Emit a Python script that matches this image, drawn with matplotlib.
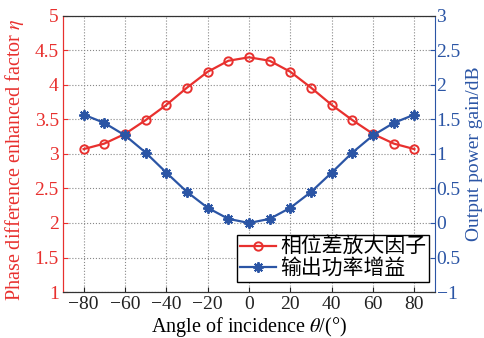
import matplotlib.pyplot as plt

plt.rcParams['font.family'] = ['Liberation Serif', 'Noto Sans CJK SC']
plt.rcParams['mathtext.fontset'] = 'stix'

angles = [-80, -70, -60, -50, -40, -30, -20, -10, 0, 10, 20, 30, 40, 50, 60, 70, 80]
eta = [3.07, 3.15, 3.29, 3.49, 3.71, 3.96, 4.19, 4.35, 4.40,
       4.35, 4.19, 3.96, 3.71, 3.49, 3.29, 3.15, 3.07]
gain = [1.57, 1.45, 1.27, 1.02, 0.73, 0.45, 0.22, 0.06, 0.00,
        0.06, 0.22, 0.45, 0.73, 1.02, 1.27, 1.45, 1.57]
x_ticks = [-80, -60, -40, -20, 0, 20, 40, 60, 80]
left_ticks = [1, 1.5, 2, 2.5, 3, 3.5, 4, 4.5, 5]
right_ticks = [-1, -0.5, 0, 0.5, 1, 1.5, 2, 2.5, 3]
# the source figure prints the -0.5 tick without its minus sign
right_labels = ['\u22121', '0.5', '0', '0.5', '1', '1.5', '2', '2.5', '3']

red = '#e8302e'
blue = '#2b55a5'
tick_fs = 14
label_fs = 14.5


def fmt(v):
    s = f'{v:g}'
    return s.replace('-', '\u2212')


fig = plt.figure(figsize=(4.84, 3.38), dpi=100)
ax = fig.add_axes([0.130, 0.136, 0.769, 0.817])
ax2 = ax.twinx()

l1, = ax.plot(angles, eta, '-o', color=red, lw=1.6, ms=6, mfc='none', mew=1.4,
              label='相位差放大因子')
l2, = ax2.plot(angles, gain, '-', color=blue, lw=1.6, marker=(8, 2, 0), ms=7.5,
               mew=1.4, label='输出功率增益')

ax.set_xlim(-90, 90)
ax.set_ylim(1, 5)
ax2.set_ylim(-1, 3)
ax.set_xticks(x_ticks)
ax.set_xticklabels([fmt(v) for v in x_ticks])
ax.set_yticks(left_ticks)
ax.set_yticklabels([fmt(v) for v in left_ticks])
ax2.set_yticks(right_ticks)
ax2.set_yticklabels(right_labels)

ax.grid(True, linestyle=':', color='#888888', lw=0.8)
ax.tick_params(axis='x', direction='in', labelsize=tick_fs, colors='#222222', pad=3)
ax.tick_params(axis='y', direction='in', labelsize=tick_fs, colors=red, pad=3)
ax2.tick_params(axis='y', direction='in', labelsize=tick_fs, colors=blue, pad=1)

ax.spines['left'].set_color(red)
ax2.spines['left'].set_color(red)
ax2.spines['right'].set_color(blue)
ax.spines['right'].set_visible(False)
for s in ('top', 'bottom'):
    ax2.spines[s].set_color('#333333')

ax.set_xlabel('Angle of incidence $\\theta$/(°)', fontsize=label_fs, labelpad=1)
ax.set_ylabel('Phase difference enhanced factor $\\eta$', fontsize=label_fs, color=red)
ax.yaxis.set_label_coords(-0.10, 0.48)
ax2.set_ylabel('Output power gain/dB', fontsize=14, color=blue, rotation=90)
ax2.yaxis.set_label_coords(1.083, 0.5)

leg = ax2.legend(handles=[l1, l2], loc='lower right', fontsize=15, frameon=True,
                 fancybox=False, edgecolor='black', framealpha=1,
                 handlelength=1.7, handletextpad=0.2, borderpad=0.15,
                 labelspacing=0.05, borderaxespad=0,
                 bbox_to_anchor=(0.984, 0.036))
leg.get_frame().set_linewidth(1.0)

fig.savefig('out.png', dpi=100)
